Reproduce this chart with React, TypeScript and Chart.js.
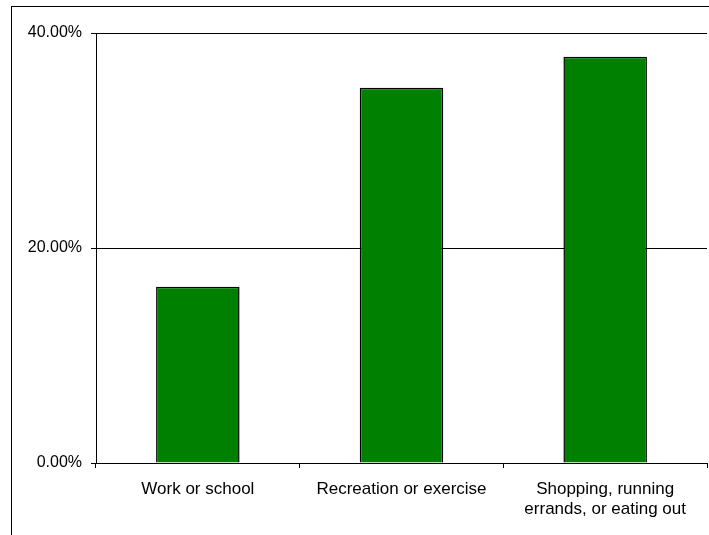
import React, { useEffect, useRef } from "react";
import { Chart, registerables } from "chart.js";

Chart.register(...registerables);

const categories: (string | string[])[] = [
  "Work or school",
  "Recreation or exercise",
  ["Shopping, running", "errands, or eating out"],
];
const values: number[] = [16.4, 34.9, 37.8];
const yMin = 0;
const yMax = 40;
const yStep = 20;

const framePlugin = {
  id: "frame",
  beforeDraw(chart: any) {
    const ctx = chart.ctx;
    ctx.save();
    ctx.strokeStyle = "#000";
    ctx.lineWidth = 1;
    ctx.strokeRect(11.5, 6.5, 900, 700);
    ctx.restore();
  },
};

export default function App() {
  const ref = useRef<HTMLCanvasElement>(null);
  useEffect(() => {
    if (!ref.current) return;
    const family = "'Liberation Sans', Arial, sans-serif";
    const xFont = { family, size: 17, lineHeight: 1.2 };
    const yFont = { family, size: 16, lineHeight: 1.2 };
    const chart = new Chart(ref.current, {
      type: "bar",
      data: {
        labels: categories,
        datasets: [
          {
            data: values,
            backgroundColor: "#008000",
            borderColor: "#000",
            borderWidth: 1.5,
            categoryPercentage: 1,
            barPercentage: 0.41,
          },
        ],
      },
      options: {
        responsive: false,
        animation: false,
        layout: { padding: { top: 33, right: 2, left: 0, bottom: 0 } },
        plugins: { legend: { display: false }, tooltip: { enabled: false } },
        scales: {
          x: {
            offset: true,
            grid: {
              offset: true,
              drawOnChartArea: false,
              drawTicks: true,
              tickLength: 5,
              color: "#000",
            },
            border: { color: "#000", width: 1 },
            ticks: { color: "#000", font: xFont, padding: 11, maxRotation: 0, autoSkip: false },
            afterFit: (s: any) => {
              s.height = 72;
            },
          },
          y: {
            min: yMin,
            max: yMax,
            grid: { color: "#000", tickLength: 5 },
            border: { color: "#000", width: 1 },
            ticks: {
              stepSize: yStep,
              color: "#000",
              font: yFont,
              padding: 9,
              callback: (v: any) => Number(v).toFixed(2) + "%",
            },
            afterFit: (s: any) => {
              s.width = 96;
            },
          },
        },
      },
      plugins: [framePlugin],
    });
    return () => chart.destroy();
  }, []);
  return (
    <div style={{ position: "fixed", left: 0, top: 0, width: 709, height: 535, background: "#fff" }}>
      <canvas ref={ref} width={709} height={535} />
    </div>
  );
}
